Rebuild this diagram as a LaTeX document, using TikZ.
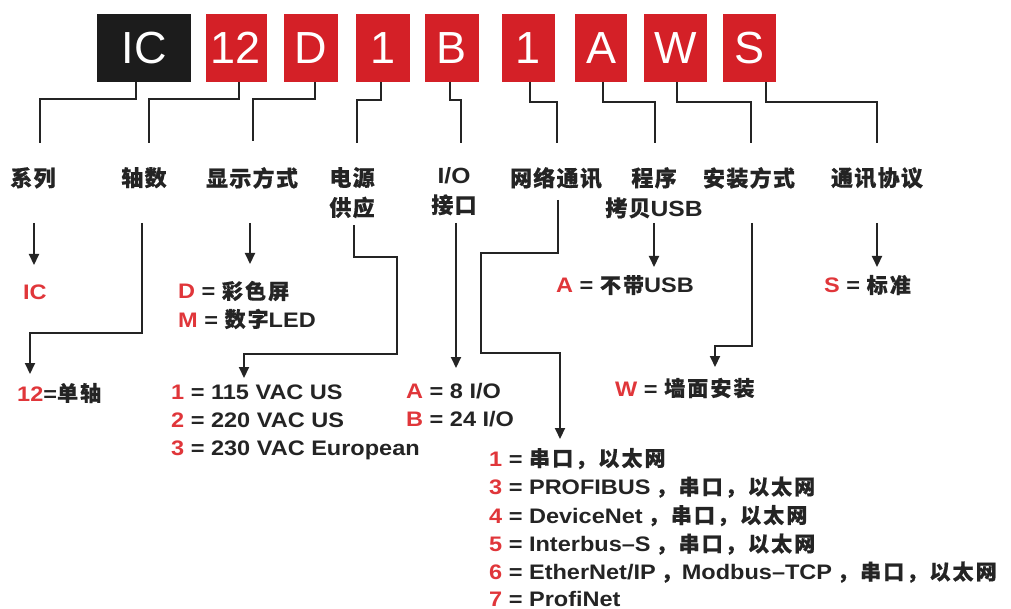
\documentclass[tikz,border=0pt]{standalone}
\usepackage{fontspec}
\setmainfont{Liberation Sans}[FakeStretch=1.12]
\newfontfamily\boxfont{Liberation Sans}
\newfontfamily\cjkl{Noto Sans CJK SC}[LetterSpace=6,BoldFeatures={FakeBold=0.5}]
\newfontfamily\cjkt{Noto Sans CJK SC}[LetterSpace=10,BoldFeatures={FakeBold=0.5}]
\usetikzlibrary{arrows.meta}
\definecolor{bred}{HTML}{D42027}
\definecolor{tred}{HTML}{E0363A}
\definecolor{ink}{HTML}{242424}
\definecolor{bblack}{HTML}{1C1C1C}
\newcommand\rd[1]{\textcolor{tred}{#1}}
\newcommand\zl[1]{{\cjkl\bfseries #1}}
\newcommand\zt[1]{{\cjkt\bfseries #1}}
\newcommand\gap{\hspace{5pt}}
\begin{document}
\begin{tikzpicture}[x=1pt,y=-1pt,
  box/.style={minimum height=68pt, inner sep=0, text=white, font=\boxfont\fontsize{45}{45}\selectfont},
  lbl/.style={anchor=north, inner sep=0, align=center, text=ink, font=\bfseries\fontsize{22}{30}\selectfont},
  item/.style={anchor=base west, inner sep=0, text=ink, font=\bfseries\fontsize{21}{28}\selectfont},
  conn/.style={draw=ink, line width=2.1pt},
  arr/.style={conn, -{Triangle[length=11pt,width=10pt]}}]
\useasboundingbox (0,0) rectangle (1011,609);
% code boxes
\node[box, fill=bblack, minimum width=94pt] (bIC) at (144,48) {IC};
\node[box, fill=bred, minimum width=61pt] (b12) at (236,48) {12};
\node[box, fill=bred, minimum width=54pt] (bD) at (311,48) {D};
\node[box, fill=bred, minimum width=54pt] (bP) at (383,48) {1};
\node[box, fill=bred, minimum width=54pt] (bB) at (452,48) {B};
\node[box, fill=bred, minimum width=53pt] (bN) at (528.5,48) {1};
\node[box, fill=bred, minimum width=52pt] (bA) at (601,48) {A};
\node[box, fill=bred, minimum width=63pt] (bW) at (675.5,48) {W};
\node[box, fill=bred, minimum width=53pt] (bS) at (749.5,48) {S};
% category labels
\node[lbl] (lXL) at (33,167) {\zl{系列}};
\node[lbl] (lZS) at (144,167) {\zl{轴数}};
\node[lbl] (lXS) at (252,167) {\zl{显示方式}};
\node[lbl] (lDY) at (352,167) {\zl{电源}\\\zl{供应}};
\node[lbl] (lIO) at (454,167) {I/O\\\zl{接口}};
\node[lbl] (lWL) at (556,167) {\zl{网络通讯}};
\node[lbl] (lCX) at (654,167) {\zl{程序}\\\zl{拷贝}USB};
\node[lbl] (lAZ) at (749,167) {\zl{安装方式}};
\node[lbl] (lXY) at (877,167) {\zl{通讯协议}};
% top connector ends
\coordinate (t1) at (40,143);
\coordinate (t2) at (149,143);
\coordinate (t3) at (253,141);
\coordinate (t4) at (357,143);
\coordinate (t5) at (461,143);
\coordinate (t6) at (557,143);
\coordinate (t7) at (655,143);
\coordinate (t8) at (751,143);
\coordinate (t9) at (877,143);
\draw[conn] (bIC.south -| 136,0) -- ++(0,17) -| (t1);
\draw[conn] (b12.south -| 239,0) -- ++(0,17) -| (t2);
\draw[conn] (bD.south -| 315,0) -- ++(0,17) -| (t3);
\draw[conn] (bP.south -| 381,0) -- ++(0,18) -| (t4);
\draw[conn] (bB.south -| 450,0) -- ++(0,18) -| (t5);
\draw[conn] (bN.south -| 530,0) -- ++(0,20) -| (t6);
\draw[conn] (bA.south -| 603,0) -- ++(0,20) -| (t7);
\draw[conn] (bW.south -| 677,0) -- ++(0,20) -| (t8);
\draw[conn] (bS.south -| 766,0) -- ++(0,20) -| (t9);
% values
\node[item] (vIC) at (23,300) {\rd{IC}};
\node[item] (v12) at (17,401) {\rd{12}=\zt{单轴}};
\node[item] (vD) at (178,299) {\rd{D} = \zt{彩色屏}};
\node[item] (vM) at (178,327) {\rd{M} = \zt{数字}LED};
\node[item] (vP1) at (171,399) {\rd{1} = 115 VAC US};
\node[item] (vP2) at (171,427) {\rd{2} = 220 VAC US};
\node[item] (vP3) at (171,455) {\rd{3} = 230 VAC European};
\node[item] (vA) at (406,398) {\rd{A} = 8 I/O};
\node[item] (vB) at (406,426) {\rd{B} = 24 I/O};
\node[item] (vU) at (556,293) {\rd{A} = \zt{不带}USB};
\node[item] (vW) at (615,396) {\rd{W} = \zt{墙面安装}};
\node[item] (vS) at (824,293) {\rd{S} = \zt{标准}};
\node[item] (n1) at (489,466) {\rd{1} = \zt{串口，以太网}};
\node[item] (n3) at (489,494.5) {\rd{3} = PROFIBUS\gap\zt{，串口，以太网}};
\node[item] (n4) at (489,523) {\rd{4} = DeviceNet\gap\zt{，串口，以太网}};
\node[item] (n5) at (489,551.5) {\rd{5} = Interbus--S\gap\zt{，串口，以太网}};
\node[item] (n6) at (489,579.5) {\rd{6} = EtherNet/IP\gap\zt{，}Modbus--TCP\gap\zt{，串口，以太网}};
\node[item] (n7) at (489,606) {\rd{7} = ProfiNet};
% lower connectors
\coordinate (s1) at (34,223);   \coordinate (e1) at (34,265);
\coordinate (s2) at (142,223);  \coordinate (e2) at (30,374);
\coordinate (s3) at (250,223);  \coordinate (e3) at (250,264);
\coordinate (s4) at (354,225);  \coordinate (e4) at (244,378);
\coordinate (s5) at (456,223);  \coordinate (e5) at (456,368);
\coordinate (s6) at (558,200);  \coordinate (e6) at (560,439);
\coordinate (s7) at (654,223);  \coordinate (e7) at (654,267);
\coordinate (s8) at (752,223);  \coordinate (e8) at (715,367);
\coordinate (s9) at (877,223);  \coordinate (e9) at (877,267);
\draw[arr] (s1) -- (e1);
\draw[arr] (s2) |- (30,333) -- (e2);
\draw[arr] (s3) -- (e3);
\draw[arr] (s4) |- (397,257) |- (244,354) -- (e4);
\draw[arr] (s5) -- (e5);
\draw[arr] (s6) |- (481,253) |- (560,353) -- (e6);
\draw[arr] (s7) -- (e7);
\draw[arr] (s8) |- (715,346) -- (e8);
\draw[arr] (s9) -- (e9);
\end{tikzpicture}
\end{document}
